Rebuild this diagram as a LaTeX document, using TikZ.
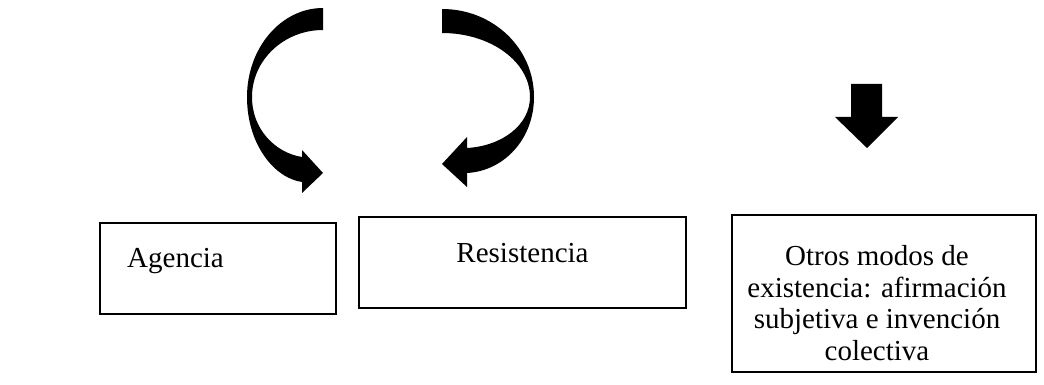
\documentclass[tikz,border=0pt]{standalone}
\usepackage{fontspec}
\setmainfont{Liberation Serif}
\begin{document}
\begin{tikzpicture}[x=1pt,y=-1pt,
  box/.style={draw=black,line width=2.3pt,inner sep=0pt,outer sep=0pt},
  txt/.style={inner sep=0pt,font=\fontsize{29}{31.7}\selectfont},
  blackshape/.style={fill=black,draw=none}]
\useasboundingbox[fill=white] (0,0) rectangle (1044,385);
% boxes
\node[box,minimum width=236pt,minimum height=91pt] (agencia) at (218,268.5) {};
\node[box,minimum width=327pt,minimum height=91pt] (resistencia) at (522.5,262.5) {};
\node[box,minimum width=304pt,minimum height=157pt] (otros) at (884,293.5) {};
% texts
\node[txt,anchor=base west] (agenciatxt) at (127,267) {Agencia};
\node[txt,anchor=base] (restxt) at (522.5,262) {Resistencia};
\node[txt,align=center,anchor=north] (otrostxt) at (877,245) {Otros modos de\\existencia: afirmación\\subjetiva e invención\\colectiva};
% left curved arrow
\fill[blackshape] (323,8) .. controls (281,8) and (247,48) .. (247,97)
  .. controls (247,144) and (274,178) .. (302,182) -- (302,193) -- (323,173)
  -- (302,150) -- (302,157) .. controls (276,153) and (252,130) .. (252,97)
  .. controls (252,60) and (284,30) .. (323,30) -- cycle;
% right curved arrow
\fill[blackshape] (442,9) .. controls (493,9) and (534,48) .. (534,97)
  .. controls (534,139) and (504,171) .. (467,173) -- (467,187) -- (442,164)
  -- (467,137) -- (467,148) .. controls (502,146) and (530,125) .. (530,97)
  .. controls (530,62) and (491,33) .. (442,33) -- cycle;
% down arrow
\fill[blackshape] (851,84) -- (882,84) -- (882,117) -- (898,117) -- (867,148)
  -- (835,117) -- (851,117) -- cycle;
\end{tikzpicture}
\end{document}
